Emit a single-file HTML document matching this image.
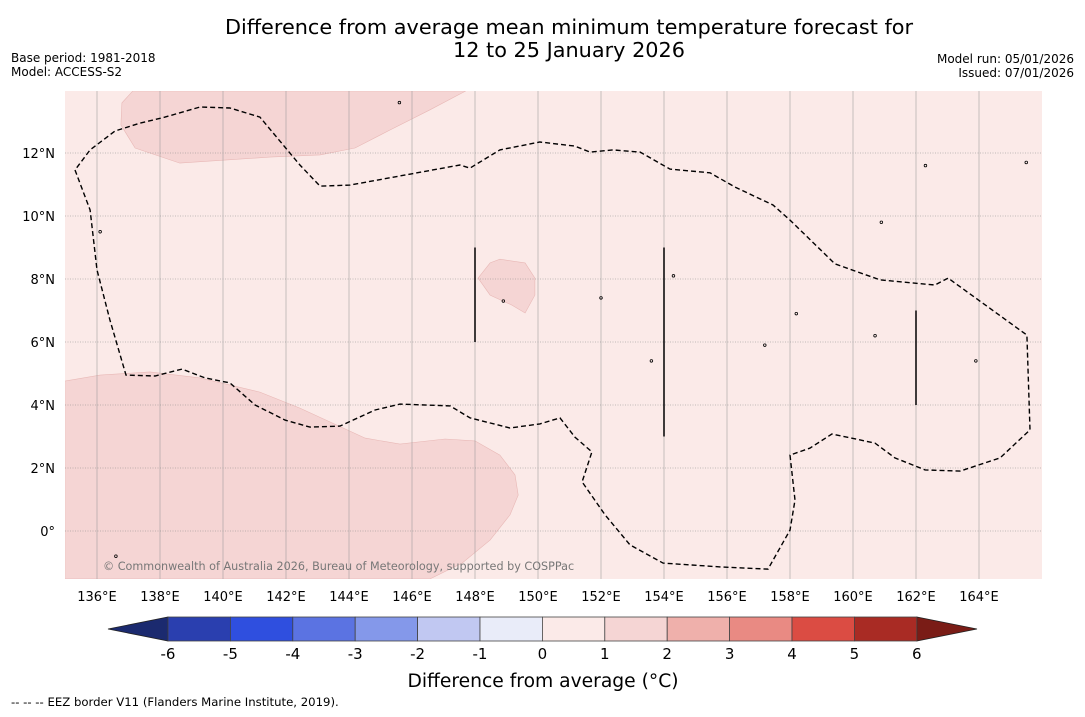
<!DOCTYPE html>
<html><head><meta charset="utf-8"><style>
body{margin:0;background:#fff;width:1085px;height:713px;overflow:hidden;font-family:"DejaVu Sans","Liberation Sans",sans-serif;}
</style></head><body>
<svg id="c" width="1085" height="713" xmlns="http://www.w3.org/2000/svg" font-family="DejaVu Sans, Liberation Sans, sans-serif"></svg>
<script>
const lonTicks=[136,138,140,142,144,146,148,150,152,154,156,158,160,162,164];
const latTicks=[0,2,4,6,8,10,12];
const cbLevels=[-6,-5,-4,-3,-2,-1,0,1,2,3,4,5,6];
const cbColors=["#2a3faf","#2f4fdf","#5b73e2","#8498ea","#c1c8f2","#e9ecf9","#fbeae8","#f5d5d4","#efb0ab","#e98a83","#db4c43","#a92b24"];
const regionNW=[[137.14,13.97],[136.79,13.59],[136.76,12.89],[137.21,12.16],[138.63,11.68],[141.49,11.87],[143.08,11.94],[144.19,12.16],[145.30,12.73],[146.57,13.37],[147.71,13.97]];
const regionSW=[[134.98,4.76],[136.10,4.95],[137.68,5.05],[139.27,4.86],[141.17,4.41],[142.44,3.90],[143.40,3.46],[144.51,2.95],[145.62,2.76],[147.05,2.92],[148.0,2.86],[148.79,2.41],[149.27,1.78],[149.37,1.14],[149.11,0.51],[148.48,-0.29],[147.59,-1.02],[146.57,-1.52],[134.98,-1.52]];
const regionMid=[[148.10,8.03],[148.48,8.51],[148.79,8.63],[149.59,8.51],[149.90,8.03],[149.90,7.49],[149.59,6.92],[149.17,7.17],[148.48,7.49]];
const eez=[[135.30,11.46],[135.78,10.19],[136.00,8.29],[136.41,6.70],[136.92,4.95],[137.84,4.92],[138.70,5.14],[139.43,4.86],[140.22,4.70],[141.02,4.00],[141.97,3.52],[142.76,3.30],[143.71,3.33],[144.83,3.84],[145.62,4.03],[147.21,3.97],[147.84,3.59],[149.11,3.27],[150.06,3.40],[150.70,3.59],[151.17,2.98],[151.71,2.51],[151.40,1.56],[152.13,0.51],[152.92,-0.44],[153.97,-1.02],[155.78,-1.14],[157.30,-1.21],[158.00,0.03],[158.16,0.98],[158.00,2.41],[158.63,2.63],[159.33,3.08],[160.70,2.79],[161.33,2.32],[162.29,1.94],[163.40,1.90],[164.67,2.32],[165.62,3.21],[165.52,6.22],[163.02,8.03],[162.60,7.81],[160.86,7.97],[159.43,8.48],[158.00,9.87],[157.46,10.35],[156.25,10.92],[155.46,11.37],[154.19,11.49],[153.24,12.03],[152.38,12.10],[151.65,12.03],[151.17,12.22],[150.06,12.35],[148.79,12.10],[147.84,11.52],[147.52,11.62],[144.03,10.98],[143.08,10.95],[142.44,11.62],[141.17,13.14],[140.22,13.43],[139.27,13.46],[138.16,13.14],[137.37,12.95],[136.57,12.70],[135.78,12.10],[135.30,11.46]];
const solidLines=[[148,9,6],[154,9,3],[162,7,4]];
const islands=[[145.6,13.6],[136.1,9.5],[148.9,7.3],[152.0,7.4],[154.3,8.1],[158.2,6.9],[163.9,5.4],[153.6,5.4],[157.2,5.9],[160.7,6.2],[162.3,11.6],[165.5,11.7],[160.9,9.8],[136.6,-0.8]];

const svg=document.getElementById('c');
const NS='http://www.w3.org/2000/svg';
const X0=65,X1=1042,Y0=91,Y1=579;
const sx=lon=>97+(lon-136)*31.5;
const sy=lat=>531-lat*31.5;
function mk(t,a,p){const e=document.createElementNS(NS,t);for(const k in a)e.setAttribute(k,a[k]);(p||svg).appendChild(e);return e;}
function txt(s,x,y,size,anchor,name){const e=mk('text',{x:x,y:y,'font-size':size,'text-anchor':anchor||'start',fill:'#000'});e.textContent=s;return e;}
const pts=a=>a.map(p=>sx(p[0]).toFixed(1)+','+sy(p[1]).toFixed(1)).join(' ');

mk('defs',{}).innerHTML='<clipPath id="cp"><rect x="65" y="91" width="977" height="488"/></clipPath>';
const bg=mk('rect',{x:X0,y:Y0,width:X1-X0,height:Y1-Y0,fill:'#fbeae8'});

const g=mk('g',{'clip-path':'url(#cp)'});

[[regionNW,'region-nw'],[regionSW,'region-sw'],[regionMid,'region-mid']].forEach(r=>{
 const e=mk('polygon',{points:pts(r[0]),fill:'#f5d5d4',stroke:'#e8b8b6','stroke-width':0.6},g);
 
});
lonTicks.forEach(l=>{const e=mk('line',{x1:sx(l),x2:sx(l),y1:Y0,y2:Y1,stroke:'#999','stroke-width':0.55},g);
 });
latTicks.forEach(l=>{const e=mk('line',{x1:X0,x2:X1,y1:sy(l),y2:sy(l),stroke:'#888','stroke-width':0.6,'stroke-dasharray':'1,1.5'},g);
 });
islands.forEach(p=>{const e=mk('circle',{cx:sx(p[0]),cy:sy(p[1]),r:1.3,fill:'none',stroke:'#000','stroke-width':0.8},g);
 });
const ez=mk('polyline',{points:pts(eez),fill:'none',stroke:'#000','stroke-width':1.4,'stroke-dasharray':'5,3'},g);

solidLines.forEach(s=>{const e=mk('line',{x1:sx(s[0]),x2:sx(s[0]),y1:sy(s[1]),y2:sy(s[2]),stroke:'#000','stroke-width':1.5},g);
 });
const cr=mk('text',{x:103,y:570,'font-size':11.2,fill:'#777'});cr.textContent='© Commonwealth of Australia 2026, Bureau of Meteorology, supported by COSPPac';


lonTicks.forEach(l=>txt(l+'°E',sx(l),601,13,'middle','lon-tick-label'));
latTicks.forEach(l=>txt(l===0?'0°':l+'°N',55,sy(l)+5,13,'end','lat-tick-label'));

txt('Difference from average mean minimum temperature forecast for',569,34,20.8,'middle','chart-title');
txt('12 to 25 January 2026',569,57,20.8,'middle','chart-title-dates');
txt('Base period: 1981-2018',11,62,12,'start','base-period');
txt('Model: ACCESS-S2',11,76,12,'start','model-name');
txt('Model run: 05/01/2026',1074,63,12,'end','model-run');
txt('Issued: 07/01/2026',1074,77,12,'end','issued-date');

const cbX0=168,cbW=62.4,cbY=617,cbH=24;
const cx=v=>cbX0+(v-cbLevels[0])*cbW;
const al=mk('polygon',{points:`108,629 ${cx(-6)},${cbY} ${cx(-6)},${cbY+cbH}`,fill:'#1b2a6f',stroke:'#222','stroke-width':0.8});

const ah=mk('polygon',{points:`977,629 ${cx(6)},${cbY} ${cx(6)},${cbY+cbH}`,fill:'#7a1c16',stroke:'#222','stroke-width':0.8});

cbColors.forEach((c,i)=>{const e=mk('rect',{x:cx(cbLevels[i]),y:cbY,width:cx(cbLevels[i+1])-cx(cbLevels[i]),height:cbH,fill:c,stroke:'#444','stroke-width':0.8});
 });
cbLevels.forEach(v=>txt(String(v),cx(v),659,15,'middle','colorbar-tick-label'));
txt('Difference from average (°C)',543,687,18.7,'middle','colorbar-title');
txt('--  --  -- EEZ border V11 (Flanders Marine Institute, 2019).',11,706,11.7,'start','eez-footnote');
</script>
</body></html>
